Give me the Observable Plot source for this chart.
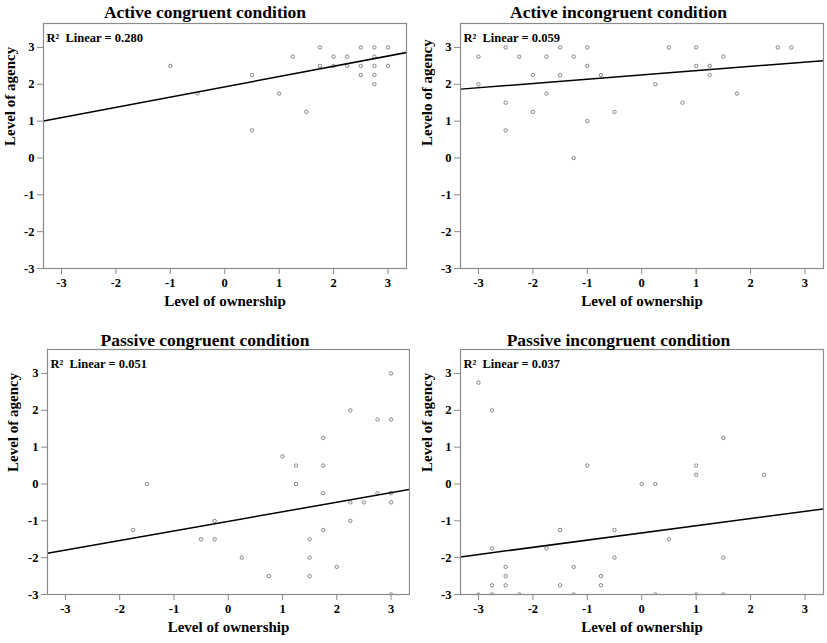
<!DOCTYPE html>
<html>
<head>
<meta charset="utf-8">
<script src="https://cdn.jsdelivr.net/npm/d3@7"></script>
<script src="https://cdn.jsdelivr.net/npm/@observablehq/plot@0.6"></script>
<style>
  html, body { margin: 0; padding: 0; background: #fff; }
  #root { position: relative; width: 827px; height: 643px; overflow: hidden; background: #fff; }
  .panel { position: absolute; }
  .title { position: absolute; text-align: center; font-family: "Liberation Serif", "Times New Roman", serif; font-weight: bold; font-size: 17.5px; line-height: 1; z-index: 2; color: #000; }
</style>
</head>
<body>
<div id="root"></div>
<script>
// ---- Data ----
const titles = ["Active congruent condition", "Active incongruent condition", "Passive congruent condition", "Passive incongruent condition"];
const yLabels = ["Level of agency", "Levelo of agency", "Level of agency", "Level of agency"];
const xLabel = "Level of ownership";
const r2Labels = ["0.280", "0.059", "0.051", "0.037"];
const fitIntercepts = [1.93, 2.255, -1.015, -1.33];
const fitSlopes = [0.279, 0.116, 0.26, 0.195];
const axisTicks = [-3, -2, -1, 0, 1, 2, 3];

const activeCongruentX = [-1, -0.5, 0.5, 0.5, 1, 1.25, 1.5, 1.75, 1.75, 2, 2, 2.25, 2.25, 2.5, 2.5, 2.5, 2.75, 2.75, 2.75, 2.75, 2.75, 3, 3];
const activeCongruentY = [2.5, 1.75, 2.25, 0.75, 1.75, 2.75, 1.25, 3, 2.5, 2.75, 2.5, 2.75, 2.5, 3, 2.5, 2.25, 3, 2.75, 2.5, 2.25, 2, 3, 2.5];

const activeIncongruentX = [-3, -3, -2.5, -2.5, -2.5, -2.25, -2, -2, -1.75, -1.75, -1.5, -1.5, -1.25, -1.25, -1, -1, -1, -0.75, -0.5, 0.25, 0.5, 0.75, 1, 1, 1.25, 1.25, 1.5, 1.75, 2.5, 2.75];
const activeIncongruentY = [2.75, 2, 3, 1.5, 0.75, 2.75, 2.25, 1.25, 2.75, 1.75, 3, 2.25, 2.75, 0, 3, 2.5, 1, 2.25, 1.25, 2, 3, 1.5, 3, 2.5, 2.5, 2.25, 2.75, 1.75, 3, 3];

const passiveCongruentX = [-1.75, -1.5, -0.5, -0.25, -0.25, 0.25, 0.75, 1, 1.25, 1.25, 1.5, 1.5, 1.5, 1.75, 1.75, 1.75, 1.75, 2, 2.25, 2.25, 2.25, 2.5, 2.75, 2.75, 3, 3, 3, 3, 3];
const passiveCongruentY = [-1.25, 0, -1.5, -1, -1.5, -2, -2.5, 0.75, 0.5, 0, -1.5, -2, -2.5, 1.25, 0.5, -0.25, -1.25, -2.25, 2, -0.5, -1, -0.5, 1.75, -0.25, 3, 1.75, -0.25, -0.5, -3];

const passiveIncongruentX = [-3, -3, -2.75, -2.75, -2.75, -2.75, -2.5, -2.5, -2.5, -2.25, -1.75, -1.5, -1.5, -1.25, -1.25, -1, -0.75, -0.75, -0.5, -0.5, 0, 0.25, 0.25, 0.5, 1, 1, 1, 1.5, 1.5, 1.5, 2.25];
const passiveIncongruentY = [2.75, -3, 2, -1.75, -2.75, -3, -2.25, -2.5, -2.75, -3, -1.75, -1.25, -2.75, -2.25, -3, 0.5, -2.5, -2.75, -1.25, -2, 0, 0, -3, -1.5, 0.5, 0.25, -3, 1.25, -2, -3, 0.25];

const seriesX = [activeCongruentX, activeIncongruentX, passiveCongruentX, passiveIncongruentX];
const seriesY = [activeCongruentY, activeIncongruentY, passiveCongruentY, passiveIncongruentY];

// ---- Layout ----
const xDomain = [-3.33, 3.34];
const yDomain = [-3, 3.65];
const panels = [
  {left: 0,   top: 0,   width: 410, height: 318, mL: 43, mR: 4, mT: 23, mB: 50, yLab: 33, titleY: 4},
  {left: 410, top: 0,   width: 417, height: 318, mL: 50, mR: 4, mT: 23, mB: 50, yLab: 33, titleY: 4},
  {left: 0,   top: 320, width: 410, height: 323, mL: 47, mR: 1, mT: 29, mB: 49, yLab: 34, titleY: 12},
  {left: 410, top: 320, width: 417, height: 323, mL: 50, mR: 4, mT: 29, mB: 49, yLab: 33, titleY: 12}
];

const serif = "'Liberation Serif', 'Times New Roman', serif";
const root = document.getElementById("root");
const fmt = d => String(d);

panels.forEach((p, i) => {
  const pts = seriesX[i].map((x, j) => ({x, y: seriesY[i][j]}));
  const fit = xDomain.map(x => ({x, y: fitIntercepts[i] + fitSlopes[i] * x}));
  const chart = Plot.plot({
    width: p.width,
    height: p.height,
    marginLeft: p.mL,
    marginRight: p.mR,
    marginTop: p.mT,
    marginBottom: p.mB,
    style: {fontFamily: serif, fontWeight: "bold", fontSize: "12px", color: "#000", background: "transparent"},
    x: {domain: xDomain},
    y: {domain: yDomain},
    marks: [
      Plot.axisX(axisTicks, {tickSize: 6, tickPadding: 4, stroke: "#888", fill: "#000", label: null, fontSize: 12.5, fontWeight: "bold", tickFormat: fmt}),
      Plot.axisY(axisTicks, {tickSize: 6, tickPadding: 3, stroke: "#888", fill: "#000", label: null, fontSize: 12.5, fontWeight: "bold", tickFormat: fmt}),
      Plot.dot(pts, {x: "x", y: "y", r: 1.7, stroke: "#777", strokeWidth: 0.9, fill: "none", clip: true}),
      Plot.line(fit, {x: "x", y: "y", stroke: "#000", strokeWidth: 1.5, clip: true}),
      Plot.frame({stroke: "#8a8a8a", strokeWidth: 1.2}),
      Plot.text([`R\u00B2  Linear = ${r2Labels[i]}`], {frameAnchor: "top-left", dx: 3, dy: 10, textAnchor: "start", fontSize: 12.5, fontWeight: "bold", fill: "#000"}),
      Plot.text([xLabel], {frameAnchor: "bottom", dy: 37, fontSize: 15, fontWeight: "bold", fill: "#000"}),
      Plot.text([yLabels[i]], {frameAnchor: "left", dx: -p.yLab, rotate: -90, fontSize: 15, fontWeight: "bold", fill: "#000"})
    ]
  });
  chart.classList.add("panel");
  chart.style.left = p.left + "px";
  chart.style.top = p.top + "px";
  chart.style.position = "absolute";
  root.appendChild(chart);

  const t = document.createElement("div");
  t.className = "title";
  t.textContent = titles[i];
  t.style.left = p.left + "px";
  t.style.width = p.width + "px";
  t.style.top = (p.top + p.titleY) + "px";
  root.appendChild(t);
});
</script>
</body>
</html>
